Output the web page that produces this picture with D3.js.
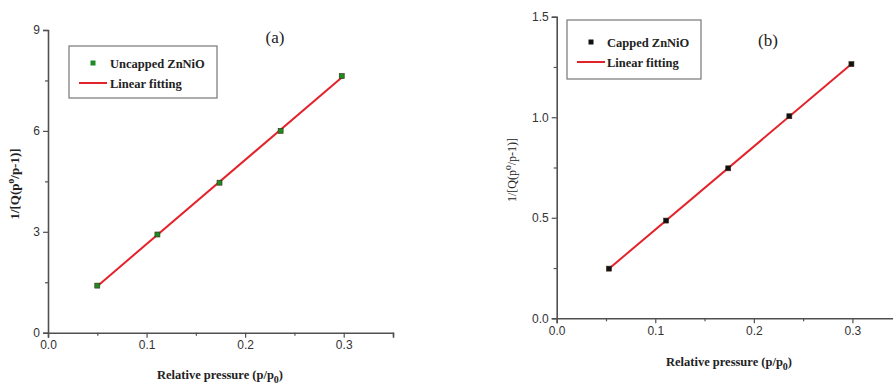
<!DOCTYPE html>
<html>
<head>
<meta charset="utf-8">
<script src="https://cdn.jsdelivr.net/npm/d3@7"></script>
<style>
  html, body { margin: 0; padding: 0; background: #fff; overflow: hidden; }
  svg { display: block; }
</style>
</head>
<body>
<svg id="chart" width="893" height="385"></svg>
<script>
// Relative pressure values (p/p0) for both samples
const pressureA = [0.050, 0.111, 0.174, 0.236, 0.298];
const pressureB = [0.053, 0.111, 0.174, 0.236, 0.299];
// BET transform 1/[Q(p0/p-1)]
const betUncapped = [1.40, 2.92, 4.46, 6.00, 7.63];
const betCapped   = [0.247, 0.486, 0.746, 1.005, 1.264];
// Axis ticks
const xTicks = [0.0, 0.1, 0.2, 0.3];
const xMinor = [0.05, 0.15, 0.25, 0.35];
const yTicksA = [0, 3, 6, 9];
const yMinorA = [1.5, 4.5, 7.5];
const yTicksB = [0.0, 0.5, 1.0, 1.5];
const yMinorB = [0.25, 0.75, 1.25];
const seriesNames = ["Uncapped ZnNiO", "Capped ZnNiO"];
const fitName = "Linear fitting";

const svg = d3.select("#chart");
const axisColor = "#505050";
const fitColor = "#e3232b";
const serif = "'Liberation Serif', 'Times New Roman', serif";
const sans = "'Liberation Sans', Arial, sans-serif";

function linearFit(xs, ys) {
  const n = xs.length;
  const mx = d3.mean(xs), my = d3.mean(ys);
  let sxy = 0, sxx = 0;
  for (let i = 0; i < n; i++) { sxy += (xs[i] - mx) * (ys[i] - my); sxx += (xs[i] - mx) ** 2; }
  const b = sxy / sxx;
  return { slope: b, intercept: my - b * mx };
}

function panel(cfg) {
  const g = svg.append("g");
  const x = d3.scaleLinear().domain([0, 0.35]).range([cfg.x0, cfg.x0 + cfg.xLen]);
  const y = d3.scaleLinear().domain(cfg.yDomain).range([cfg.y0, cfg.yTop]);

  // x axis
  g.append("g").attr("transform", `translate(0,${cfg.y0})`)
    .call(d3.axisBottom(x).tickValues(xTicks).tickFormat(d3.format(".1f")).tickSizeOuter(0).tickSize(5).tickPadding(3));
  g.append("g").attr("transform", `translate(0,${cfg.y0})`)
    .call(d3.axisBottom(x).tickValues(xMinor).tickFormat("").tickSizeOuter(0).tickSize(3))
    .select(".domain").remove();
  // y axis
  g.append("g").attr("transform", `translate(${cfg.x0},0)`)
    .call(d3.axisLeft(y).tickValues(cfg.yTicks).tickFormat(cfg.yFmt).tickSizeOuter(0).tickSize(5).tickPadding(3));
  g.append("g").attr("transform", `translate(${cfg.x0},0)`)
    .call(d3.axisLeft(y).tickValues(cfg.yMinor).tickFormat("").tickSizeOuter(0).tickSize(3))
    .select(".domain").remove();

  g.selectAll(".domain").attr("stroke", axisColor).attr("stroke-width", 1.6);
  g.selectAll(".tick line").attr("stroke", axisColor).attr("stroke-width", 1.2);
  g.selectAll(".tick text").attr("fill", "#333").style("font-family", sans).style("font-size", "12px");

  // linear fit line
  const fit = linearFit(cfg.xs, cfg.ys);
  const xEnds = [d3.min(cfg.xs), d3.max(cfg.xs)];
  g.append("line")
    .attr("x1", x(xEnds[0])).attr("y1", y(fit.intercept + fit.slope * xEnds[0]))
    .attr("x2", x(xEnds[1])).attr("y2", y(fit.intercept + fit.slope * xEnds[1]))
    .attr("stroke", fitColor).attr("stroke-width", 2);

  // data markers
  const s = 5;
  g.selectAll("rect.pt").data(cfg.xs.map((d, i) => [d, cfg.ys[i]])).join("rect")
    .attr("class", "pt")
    .attr("x", d => x(d[0]) - s / 2).attr("y", d => y(d[1]) - s / 2)
    .attr("width", s).attr("height", s)
    .attr("fill", cfg.markerColor).attr("stroke", "#3a2a1a").attr("stroke-width", 0.6);

  // x-axis title
  const xt = g.append("text")
    .attr("x", cfg.xTitleX).attr("y", cfg.xTitleY)
    .attr("text-anchor", "middle")
    .style("font-family", serif).style("font-weight", "bold").style("font-size", "12.5px")
    .attr("fill", "#222");
  xt.append("tspan").text("Relative pressure (p/p");
  xt.append("tspan").attr("dy", 4).style("font-size", "10px").text("0");
  xt.append("tspan").attr("dy", -4).text(")");

  // y-axis title
  const yt = g.append("text")
    .attr("transform", `translate(${cfg.yTitleX},${cfg.yTitleY}) rotate(-90)`)
    .attr("text-anchor", "middle")
    .style("font-family", serif).style("font-weight", cfg.yTitleWeight).style("font-size", cfg.yTitleSize)
    .attr("fill", "#222");
  yt.append("tspan").text("1/[Q(p");
  yt.append("tspan").attr("dy", -5).style("font-size", "9.5px").text("o");
  yt.append("tspan").attr("dy", 5).text("/p-1)]");

  // panel label
  g.append("text").attr("x", cfg.labelX).attr("y", cfg.labelY)
    .attr("text-anchor", "middle")
    .style("font-family", serif).style("font-size", "17px").attr("fill", "#222")
    .text(cfg.label);

  // legend
  const L = cfg.legend;
  g.append("rect").attr("x", L.x).attr("y", L.y).attr("width", L.w).attr("height", L.h)
    .attr("fill", "#fff").attr("stroke", "#777").attr("stroke-width", 1.2);
  g.append("rect").attr("x", L.markX - s / 2).attr("y", L.row1 - s / 2).attr("width", s).attr("height", s)
    .attr("fill", cfg.markerColor);
  g.append("text").attr("x", L.textX).attr("y", L.row1 + 4.5)
    .style("font-family", serif).style("font-weight", "bold").style("font-size", "12.5px").attr("fill", "#222")
    .text(cfg.name);
  g.append("line").attr("x1", L.lineX1).attr("x2", L.lineX2).attr("y1", L.row2).attr("y2", L.row2)
    .attr("stroke", fitColor).attr("stroke-width", 2);
  g.append("text").attr("x", L.textX).attr("y", L.row2 + 4.5)
    .style("font-family", serif).style("font-weight", "bold").style("font-size", "12.5px").attr("fill", "#222")
    .text(fitName);
}

panel({
  x0: 48, xLen: 345, y0: 332.7, yTop: 30, yDomain: [0, 9],
  yTicks: yTicksA, yMinor: yMinorA, yFmt: d3.format("d"),
  xs: pressureA, ys: betUncapped, markerColor: "#1f8a1f", name: seriesNames[0],
  xTitleX: 220, xTitleY: 379, yTitleX: 19, yTitleY: 184, yTitleWeight: "bold", yTitleSize: "13px",
  label: "(a)", labelX: 275, labelY: 43,
  legend: { x: 69, y: 46, w: 148, h: 52, markX: 93, row1: 63, textX: 110, row2: 83, lineX1: 79, lineX2: 107 }
});

panel({
  x0: 556.7, xLen: 345, y0: 318.3, yTop: 16.7, yDomain: [0, 1.5],
  yTicks: yTicksB, yMinor: yMinorB, yFmt: d3.format(".1f"),
  xs: pressureB, ys: betCapped, markerColor: "#111", name: seriesNames[1],
  xTitleX: 729, xTitleY: 366, yTitleX: 516, yTitleY: 170, yTitleWeight: "normal", yTitleSize: "12px",
  label: "(b)", labelX: 768, labelY: 46,
  legend: { x: 567, y: 20, w: 134, h: 59, markX: 591, row1: 42, textX: 607, row2: 62, lineX1: 577, lineX2: 605 }
});
</script>
</body>
</html>
